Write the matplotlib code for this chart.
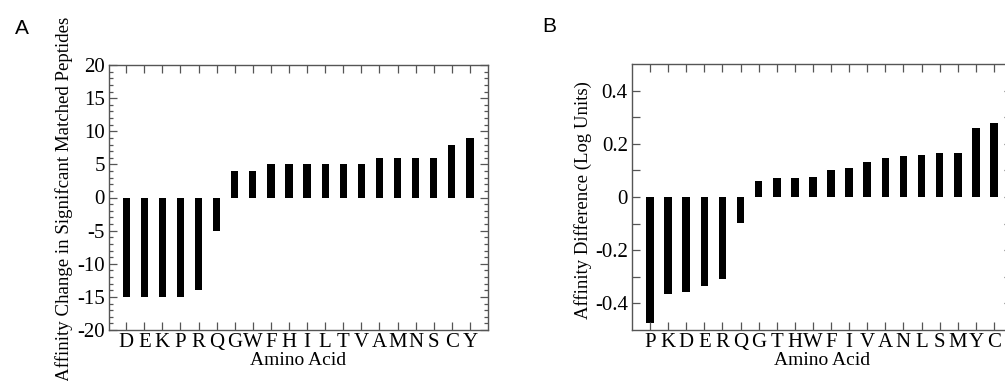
import matplotlib
matplotlib.use("Agg")
import matplotlib.pyplot as plt
from matplotlib.ticker import MultipleLocator, FixedLocator

# Panel A data
aa_a = ["D", "E", "K", "P", "R", "Q", "G", "W", "F", "H", "I", "L", "T", "V",
        "A", "M", "N", "S", "C", "Y"]
vals_a = [-15, -15, -15, -15, -14, -5, 4, 4, 5, 5, 5, 5, 5, 5, 6, 6, 6, 6, 8, 9]

# Panel B data
aa_b = ["P", "K", "D", "E", "R", "Q", "G", "T", "H", "W", "F", "I", "V", "A",
        "N", "L", "S", "M", "Y", "C"]
vals_b = [-0.474, -0.364, -0.359, -0.334, -0.308, -0.099, 0.061, 0.070, 0.070,
          0.074, 0.103, 0.109, 0.132, 0.148, 0.154, 0.159, 0.165, 0.165, 0.258, 0.280]

W, H = 1005, 381
fig = plt.figure(figsize=(W / 100, H / 100), dpi=100)

serif = "Liberation Serif"
frame_col = "#555555"


def style_axes(ax):
    for s in ax.spines.values():
        s.set_color(frame_col)
        s.set_linewidth(1.0)
    ax.tick_params(which="both", direction="in", top=True, right=True,
                   color=frame_col, width=0.9)
    ax.tick_params(which="major", length=6, pad=3, labelsize=15)
    ax.tick_params(which="minor", length=3)
    ax.tick_params(axis="x", which="major", length=6, pad=2)
    for lab in ax.get_xticklabels() + ax.get_yticklabels():
        lab.set_fontfamily(serif)


# Panel A
axA = fig.add_axes([109 / W, 1 - 330 / H, (488 - 109) / W, (330 - 65) / H])
xa = list(range(1, len(aa_a) + 1))
axA.bar(xa, vals_a, width=0.4, color="black")
axA.set_xlim(0.05, 21)
axA.set_ylim(-20, 20)
axA.set_xticks(xa)
axA.set_xticklabels(aa_a)
axA.set_yticks(range(-20, 21, 5))
axA.set_yticklabels([str(v) for v in range(-20, 21, 5)])
axA.yaxis.set_minor_locator(MultipleLocator(1))
style_axes(axA)
axA.set_xlabel("Amino Acid", fontfamily=serif, fontsize=14, labelpad=0)
axA.set_ylabel("Affinity Change in Signifcant Matched Peptides", fontfamily=serif,
               fontsize=13.6)
axA.yaxis.set_label_coords(-0.095, 0.495)

# Panel B
axB = fig.add_axes([632 / W, 1 - 330 / H, (1012 - 632) / W, (330 - 64) / H])
xb = list(range(1, len(aa_b) + 1))
axB.bar(xb, vals_b, width=0.42, color="black")
axB.set_xlim(0, 21)
axB.set_ylim(-0.5, 0.5)
axB.set_xticks(xb)
axB.set_xticklabels(aa_b)
axB.set_yticks([-0.4, -0.2, 0, 0.2, 0.4])
axB.set_yticklabels(["-0.4", "-0.2", "0", "0.2", "0.4"])
axB.yaxis.set_minor_locator(FixedLocator([-0.3, -0.1, 0.1, 0.3]))
style_axes(axB)
axB.tick_params(axis="y", which="minor", length=6)
axB.set_xlabel("Amino Acid", fontfamily=serif, fontsize=14, labelpad=0)
axB.set_ylabel("Affinity Difference (Log Units)", fontfamily=serif, fontsize=13.5)
axB.yaxis.set_label_coords(-0.105, 0.49)

# Panel letters
fig.text(15 / W, 1 - 28 / H, "A", fontfamily="Liberation Sans", fontsize=15,
         va="center", ha="left")
fig.text(542 / W, 1 - 26 / H, "B", fontfamily="Liberation Sans", fontsize=15,
         va="center", ha="left")

fig.savefig("out.png", dpi=100)
